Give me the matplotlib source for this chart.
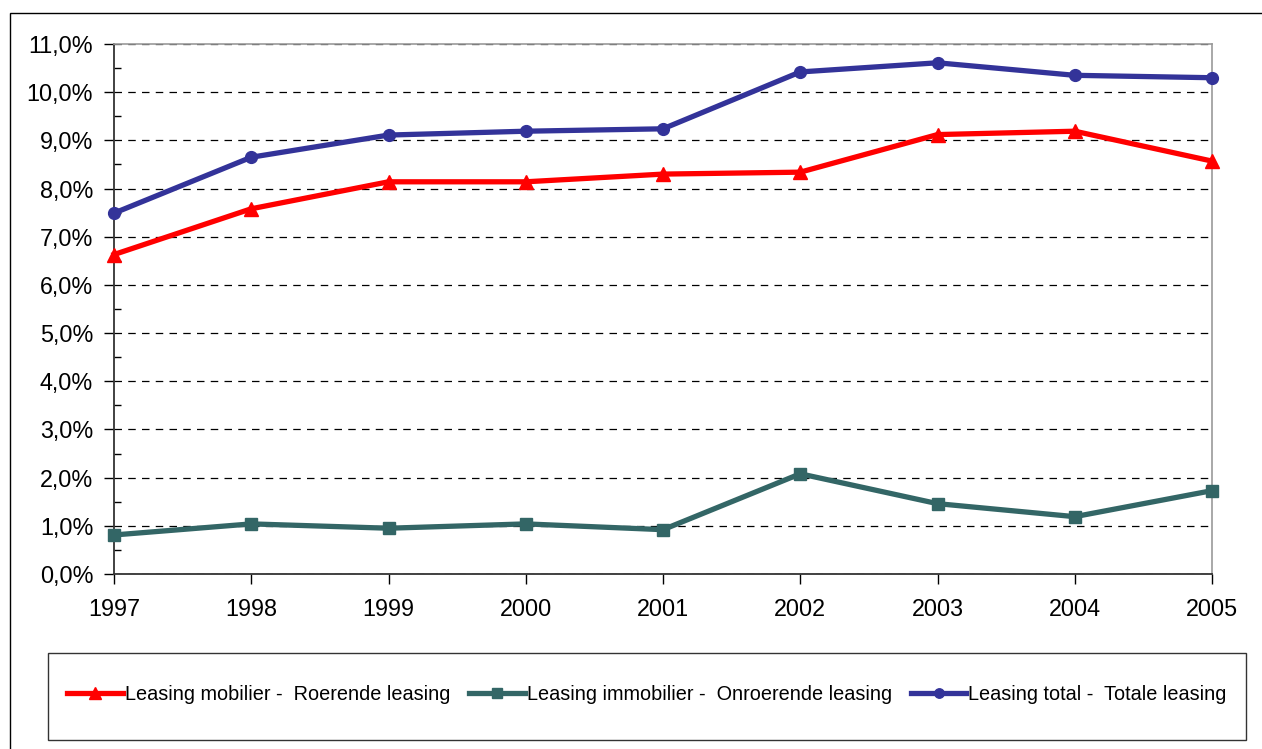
import numpy as np
import matplotlib
matplotlib.use("Agg")
import matplotlib.pyplot as plt
from matplotlib.patches import Rectangle
from matplotlib.ticker import FuncFormatter, MultipleLocator

# ── data (share in %) ──────────────────────────────────────────────────────────
years = [1997, 1998, 1999, 2000, 2001, 2002, 2003, 2004, 2005]
mobilier = [6.63, 7.58, 8.14, 8.14, 8.30, 8.34, 9.12, 9.19, 8.57]
immobilier = [0.81, 1.04, 0.95, 1.04, 0.92, 2.08, 1.46, 1.19, 1.73]
total = [7.49, 8.65, 9.11, 9.19, 9.24, 10.42, 10.61, 10.35, 10.30]

labels = [
    "Leasing mobilier -  Roerende leasing",
    "Leasing immobilier -  Onroerende leasing",
    "Leasing total -  Totale leasing",
]

plt.rcParams["font.family"] = ["Liberation Sans", "DejaVu Sans"]

W, H = 1262, 749
fig = plt.figure(figsize=(W / 100, H / 100), dpi=100)

# outer chart-area border (cut off at right/bottom)
fig.patches.append(Rectangle((10 / W, -0.1), 1.2, (H - 13) / H + 0.1,
                             transform=fig.transFigure, fill=False,
                             edgecolor="black", lw=1.0))

x0, x1, y0, y1 = 114, 1212, 574, 44
ax = fig.add_axes([x0 / W, (H - y0) / H, (x1 - x0) / W, (y0 - y1) / H])

ax.plot(years, mobilier, color="#ff0000", lw=3.8, marker="^", ms=10,
        label=labels[0], zorder=4, clip_on=False)
ax.plot(years, immobilier, color="#336666", lw=3.8, marker="s", ms=8.5,
        label=labels[1], zorder=4, clip_on=False)
ax.plot(years, total, color="#333399", lw=3.8, marker="o", ms=8.5,
        label=labels[2], zorder=4, clip_on=False)

ax.set_xlim(1997, 2005)
ax.set_ylim(0, 11)
ax.set_xticks(years)
ax.yaxis.set_major_locator(MultipleLocator(1))
ax.yaxis.set_minor_locator(MultipleLocator(0.5))
ax.yaxis.set_major_formatter(FuncFormatter(lambda v, p: f"{v:.1f}%".replace(".", ",")))

ax.grid(axis="y", which="major", color="black", ls=(0, (6, 5)), lw=0.9)
ax.set_axisbelow(True)

for s in ("top", "right"):
    ax.spines[s].set_color("#999999")
    ax.spines[s].set_linewidth(1.2)
ax.spines["left"].set_color("#333333")
ax.spines["bottom"].set_color("#333333")
ax.spines["left"].set_linewidth(1.3)
ax.spines["bottom"].set_linewidth(1.3)

ax.tick_params(axis="y", which="major", direction="out", length=7, width=1,
               labelsize=16.8, pad=8)
ax.tick_params(axis="y", which="minor", direction="in", length=5, width=1)
ax.tick_params(axis="x", direction="out", length=7, width=1, labelsize=16.8, pad=10)

# legend box
lx0, lx1, ly0, ly1 = 48, 1246, 653, 740
fig.patches.append(Rectangle((lx0 / W, (H - ly1) / H), (lx1 - lx0) / W,
                             (ly1 - ly0) / H, transform=fig.transFigure,
                             fill=False, edgecolor="#333333", lw=1.0))
fig.legend(loc="center", bbox_to_anchor=((lx0 + lx1) / 2 / W, (H - 694) / H),
           ncol=3, frameon=False, fontsize=14.3, handlelength=2.8,
           handletextpad=0.1, columnspacing=0.95, markerscale=0.8)

fig.savefig("out.png", dpi=100)
